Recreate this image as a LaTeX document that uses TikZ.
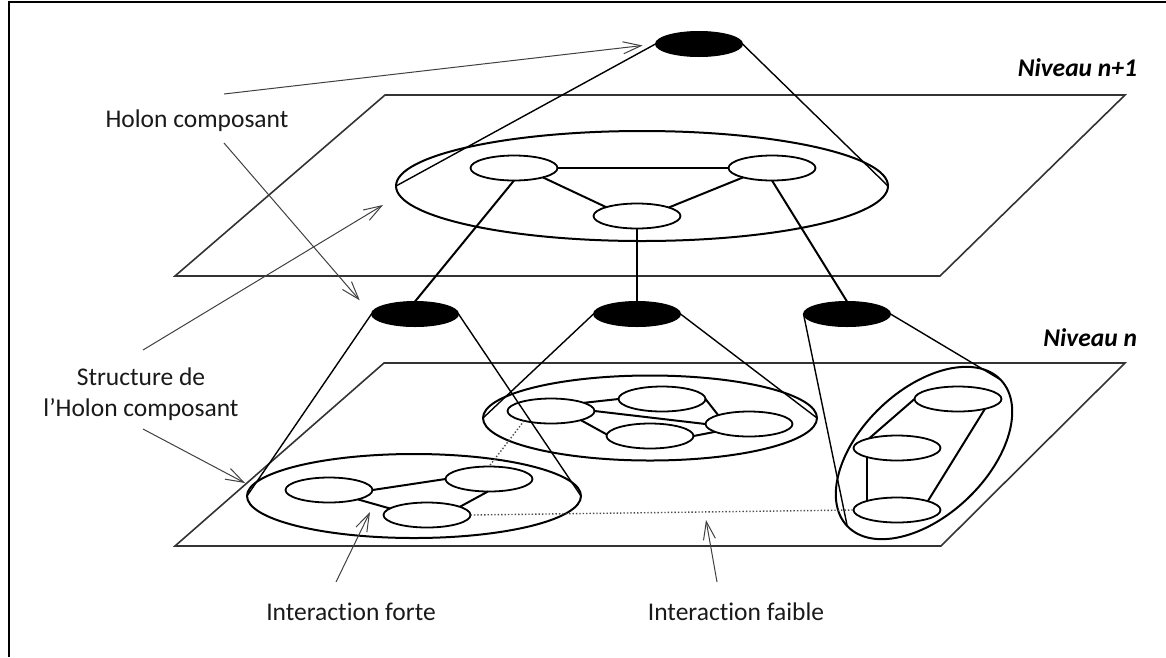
\documentclass[tikz,border=0pt]{standalone}
\usepackage{fontspec}
\setmainfont{Carlito}[Ligatures=NoCommon]
\usetikzlibrary{shapes.geometric,arrows.meta}
\begin{document}
\begin{tikzpicture}[x=1pt,y=-1pt,
  every node/.style={inner sep=0pt, outer sep=0pt},
  blk/.style={ellipse, fill=black, draw=black, line width=1pt, minimum width=87pt, minimum height=25pt},
  sm/.style={ellipse, draw=black, line width=1.8pt, minimum width=87pt, minimum height=25pt},
  big/.style={ellipse, draw=black, line width=2pt},
  link/.style={line width=2pt},
  cone/.style={line width=1.4pt},
  plane/.style={line width=1.6pt, draw=black!80},
  weak/.style={line width=1.4pt, dotted, draw=black!70},
  arr/.style={draw=black!75, line width=1pt, -{Straight Barb[length=18pt,width=12pt]}},
  lbl/.style={font=\fontsize{25.5}{30}\selectfont, text=black!90, anchor=base},
  lvl/.style={font=\fontsize{25.5}{30}\selectfont\bfseries\itshape, anchor=base east}
]
\useasboundingbox (0,0) rectangle (1166,657);
% frame
\draw[line width=2.2pt] (9,657) -- (9,2) -- (1166,2);
% planes
\draw[plane] (385,95) -- (1125,95) -- (940,276) -- (175,276) -- cycle;
\draw[plane] (384,363) -- (1125,363) -- (941,546) -- (175,546) -- cycle;
% upper level
\node[blk] (T) at (699,44) {};
\node[big, minimum width=492pt, minimum height=110pt] (U) at (642,186) {};
\node[sm] (u1) at (514,168) {};
\node[sm] (u2) at (772,168) {};
\node[sm] (u3) at (637,216) {};
% black holons of level n
\node[blk] (B1) at (415,314) {};
\node[blk] (B2) at (637,314) {};
\node[blk] (B3) at (847,314) {};
% left group
\node[big, minimum width=334pt, minimum height=84pt] (L) at (414,496) {};
\node[sm] (l1) at (329,490) {};
\node[sm] (l2) at (489,479) {};
\node[sm] (l3) at (427,515) {};
% middle group
\node[big, minimum width=334pt, minimum height=85pt] (M) at (650,418) {};
\node[sm] (m1) at (551,411) {};
\node[sm] (m2) at (662,399) {};
\node[sm] (m3) at (749,424) {};
\node[sm] (m4) at (650,436) {};
% right group
\node[big, minimum width=212pt, minimum height=126pt, rotate=43.6] (R) at (924,453) {};
\node[sm] (r1) at (958,399) {};
\node[sm] (r2) at (897,448) {};
\node[sm] (r3) at (897,510) {};
% links upper
\draw[link] (u1.east) -- (u2.west);
\draw[link] (u1.-18) -- (u3.164);
\draw[link] (u2.198) -- (u3.15);
\draw[link] (u1.south) -- (B1.north);
\draw[link] (u3.south) -- (B2.north);
\draw[link] (u2.south) -- (B3.north);
% cones
\draw[cone] (T.west) -- (U.west);
\draw[cone] (T.east) -- (U.east);
\draw[cone] (B1.west) -- (L.west);
\draw[cone] (B1.east) -- (L.east);
\draw[cone] (B2.west) -- (M.west);
\draw[cone] (B2.east) -- (M.east);
\draw[cone] (B3.west) -- (R.west);
\draw[cone] (B3.east) -- (R.east);
% left group links
\draw[link] (l1.east) -- (l2.west);
\draw[link] (l1.-18) -- (l3.170);
\draw[link] (l2.-95) -- (l3.14);
% middle group links
\draw[link] (m1.14) -- (m2.west);
\draw[link] (m1.east) -- (m3.west);
\draw[link] (m1.-17) -- (m4.178);
\draw[link] (m2.east) -- (m3.164);
\draw[link] (m4.east) -- (m3.193);
% right group links
\draw[link] (r1.west) -- (r2.161);
\draw[link] (r1.-20) -- (r3.16);
\draw[link] (r2.197) -- (r3.163);
% weak interactions
\draw[weak] (m1.200) -- (l2.north);
\draw[weak] (l3.east) -- (r3.west);
% labels
\node[lbl] (hc) at (197,127) {Holon composant};
\node[lbl] (sd) at (141,385) {Structure de};
\node[lbl] (sh) at (141,416) {l’Holon composant};
\node[lbl] (ifo) at (351,620) {Interaction forte};
\node[lbl] (ifa) at (736,620) {Interaction faible};
\node[lvl] (n1) at (1137,76) {Niveau n+1};
\node[lvl] (n0) at (1137,346) {Niveau n};
% annotation arrows
\coordinate (a1) at (224,94);
\draw[arr, shorten >=13pt] (a1) -- (T.west);
\coordinate (a2) at (224,143);
\draw[arr, shorten >=18pt] (a2) -- (B1.west);
\coordinate (a3s) at (143,350);
\coordinate (a3e) at (383,205);
\draw[arr] (a3s) -- (a3e);
\coordinate (a4s) at (143,429);
\coordinate (a4e) at (245,483);
\draw[arr] (a4s) -- (a4e);
\coordinate (a5s) at (336,582);
\coordinate (a5e) at (370,512);
\draw[arr] (a5s) -- (a5e);
\coordinate (a6s) at (717,582);
\coordinate (a6e) at (706,520);
\draw[arr] (a6s) -- (a6e);
\end{tikzpicture}
\end{document}
